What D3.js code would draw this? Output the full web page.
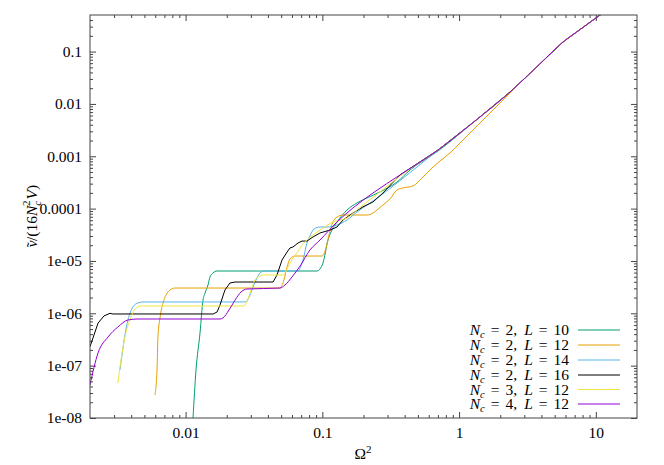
<!DOCTYPE html>
<html><head><meta charset="utf-8">
<script src="https://cdn.jsdelivr.net/npm/d3@7"></script>
<style>
body{margin:0;background:#fff}
svg{display:block}
</style>
</head><body>
<svg id="chart" width="664" height="465"></svg>
<script>
// ---------- data ----------
const xTickValues = [0.01, 0.1, 1, 10];
const xTickLabels = ["0.01", "0.1", "1", "10"];
const yTickValues = [1e-8, 1e-7, 1e-6, 1e-5, 1e-4, 1e-3, 1e-2, 1e-1];
const yTickLabels = ["1e-08", "1e-07", "1e-06", "1e-05", "0.0001", "0.001", "0.01", "0.1"];

const seriesNc = ["2", "2", "2", "2", "3", "4"];
const seriesL  = ["10", "12", "14", "16", "12", "12"];

// N_c = 2, L = 10
const omegaA = [0.0111,0.01133,0.01192,0.01275,0.01341,0.01387,0.01458,0.01509,0.01586,0.01697,0.0914,0.0961,0.1011,0.11,0.1176,0.128,0.1515,0.1792,0.2121,0.2639,0.3514,0.4375,0.7009,1.307,2.357,2.934,3.906,5.754,7.659,10.73,15.02];
const nuA    = [4e-9,1e-8,8.27e-8,4.2e-7,1.79e-6,2.44e-6,3.47e-6,4.94e-6,5.89e-6,6.43e-6,6.43e-6,7.02e-6,9.14e-6,2.51e-5,3.9e-5,5.55e-5,9.4e-5,1.285e-4,1.6e-4,2.08e-4,3.22e-4,5.46e-4,1.26e-3,4.72e-3,0.0169,0.0287,0.0584,0.1524,0.263,0.5,0.885];
// N_c = 2, L = 12
const omegaB = [0.00597,0.00618,0.00628,0.0065,0.00684,0.00719,0.00769,0.00837,0.049,0.0524,0.0552,0.058,0.0631,0.0994,0.1064,0.1119,0.1197,0.128,0.1416,0.2121,0.2346,0.251,0.2776,0.3124,0.3514,0.3889,0.4601,0.5445,0.6334,0.7251,0.8581,1.015,1.264,1.77,2.357,2.934,3.906,5.754,7.659,10.73,15.02];
const nuB    = [2.75e-8,8.27e-8,3.53e-7,8.15e-7,1.576e-6,2.23e-6,2.79e-6,3.04e-6,3.04e-6,4.33e-6,7.66e-6,1.09e-5,1.243e-5,1.243e-5,1.77e-5,3.13e-5,5.55e-5,6.91e-5,7.55e-5,7.55e-5,8.24e-5,9.4e-5,1.174e-4,1.53e-4,2.27e-4,2.48e-4,2.71e-4,4.02e-4,5.97e-4,8.12e-4,1.155e-3,1.79e-3,3.18e-3,7.66e-3,0.01617,0.0287,0.0584,0.1524,0.263,0.5,0.885];
// N_c = 2, L = 14
const omegaC = [0.00331,0.00343,0.0036,0.00379,0.00412,0.00449,0.00488,0.0272,0.02958,0.0311,0.03328,0.035,0.03807,0.0664,0.0687,0.0722,0.0772,0.0812,0.0869,0.0961,0.1081,0.128,0.1515,0.1792,0.2121,0.2639,0.3514,0.7009,1.307,2.357,2.934,3.906,5.754,7.659,10.73,15.02];
const nuC    = [8.27e-8,1.6e-7,3.85e-7,7.46e-7,1.32e-6,1.58e-6,1.647e-6,1.647e-6,2.23e-6,3.18e-6,4.72e-6,5.89e-6,6.43e-6,6.43e-6,7.33e-6,1.04e-5,2.2e-5,3.0e-5,4.08e-5,4.45e-5,4.45e-5,4.86e-5,6.06e-5,8.61e-5,1.174e-4,1.74e-4,3.08e-4,1.317e-3,4.72e-3,0.0169,0.0287,0.0584,0.1524,0.263,0.5,0.885];
// N_c = 2, L = 16
const omegaD = [0.002,0.00229,0.00253,0.0028,0.00294,0.0159,0.017,0.01785,0.0194,0.0211,0.023,0.0436,0.0466,0.0507,0.0552,0.058,0.061,0.0664,0.071,0.0772,0.0854,0.0961,0.1138,0.128,0.1416,0.1675,0.1983,0.2346,0.2776,0.3697,0.7009,1.307,2.357,2.934,3.906,5.754,7.659,10.73,15.02];
const nuD    = [2.3e-7,6.5e-7,8.9e-7,1.0e-6,9.71e-7,9.71e-7,1.06e-6,1.44e-6,2.79e-6,3.79e-6,3.96e-6,3.96e-6,5.4e-6,1.04e-5,1.48e-5,1.77e-5,1.85e-5,2.2e-5,2.4e-5,2.4e-5,2.87e-5,3.42e-5,3.9e-5,4.45e-5,6.06e-5,8.24e-5,1.08e-4,1.34e-4,1.99e-4,4.39e-4,1.317e-3,4.72e-3,0.0169,0.0287,0.0584,0.1524,0.263,0.5,0.885];
// N_c = 3, L = 12
const omegaE = [0.0032,0.00337,0.0036,0.00392,0.00427,0.00472,0.0263,0.0281,0.02958,0.0322,0.035,0.038,0.0516,0.0561,0.061,0.0653,0.071,0.0772,0.0854,0.1011,0.1197,0.1515,0.1792,0.2121,0.2639,0.3697,0.7009,1.307,2.357,2.934,3.906,5.754,7.659,10.73,15.02];
const nuE    = [4.67e-8,1.28e-7,3.53e-7,7.46e-7,1.21e-6,1.38e-6,1.38e-6,1.647e-6,2.44e-6,4.33e-6,5.16e-6,5.4e-6,5.4e-6,7.66e-6,1.14e-5,1.42e-5,2.02e-5,2.51e-5,3.13e-5,4.26e-5,5.55e-5,6.62e-5,9.4e-5,1.343e-4,2.08e-4,4.2e-4,1.317e-3,4.72e-3,0.0169,0.0287,0.0584,0.1524,0.263,0.5,0.885];
// N_c = 4, L = 12
const omegaF = [0.002,0.00229,0.00271,0.0032,0.00379,0.00449,0.01785,0.01877,0.02077,0.023,0.02542,0.0281,0.049,0.0533,0.06,0.0687,0.0812,0.0961,0.128,0.1675,0.2346,0.3697,0.7009,1.307,2.357,2.934,3.906,5.754,7.659,10.73,15.02];
const nuF    = [4.27e-8,1.75e-7,3.53e-7,5.48e-7,7.46e-7,7.79e-7,7.79e-7,8.15e-7,1.156e-6,1.79e-6,2.55e-6,2.91e-6,3.04e-6,3.47e-6,4.94e-6,8.0e-6,1.62e-5,2.51e-5,5.55e-5,1.03e-4,1.99e-4,4.39e-4,1.317e-3,4.72e-3,0.0169,0.0287,0.0584,0.1524,0.263,0.5,0.885];

const seriesOmega = [omegaA, omegaB, omegaC, omegaD, omegaE, omegaF];
const seriesNu    = [nuA, nuB, nuC, nuD, nuE, nuF];

// ---------- styles ----------
const FONT = '"Liberation Serif", "Times New Roman", "DejaVu Serif", serif';
const colors = ["#009e73", "#e69f00", "#56b4e9", "#000000", "#f0e442", "#9400d3"];
const curveTypes = [d3.curveMonotoneX, d3.curveMonotoneX, d3.curveMonotoneX, d3.curveLinear, d3.curveMonotoneX, d3.curveMonotoneX];
const borderColor = "#444";

const L = 90, R = 637, T = 15, B = 418;
const svg = d3.select("#chart");
const x = d3.scaleLog().domain([0.002, 20]).range([L, R]);
const y = d3.scaleLog().domain([1e-8, 0.5]).range([B, T]);

function minorTicks(lo, hi) {
  const out = [];
  for (let e = Math.floor(Math.log10(lo)); e <= Math.ceil(Math.log10(hi)); e++) {
    for (let k = 2; k <= 9; k++) {
      const v = k * Math.pow(10, e);
      if (v > lo * 1.0001 && v < hi * 0.9999) out.push(v);
    }
  }
  return out;
}
const xMinor = minorTicks(0.002, 20);
const yMinor = minorTicks(1e-8, 0.5);

function styleAxis(g) {
  g.attr("font-family", null).attr("font-size", null);
  g.select(".domain").remove();
  g.selectAll(".tick line").attr("stroke", borderColor).attr("stroke-width", 1);
  g.selectAll(".tick text").style("font-family", FONT).style("font-size", "15.5px").attr("fill", "#000");
}

// minor ticks
svg.append("g").attr("transform", `translate(0,${B})`).call(d3.axisBottom(x).tickValues(xMinor).tickSize(-3).tickFormat("")).call(styleAxis);
svg.append("g").attr("transform", `translate(0,${T})`).call(d3.axisTop(x).tickValues(xMinor).tickSize(-3).tickFormat("")).call(styleAxis);
svg.append("g").attr("transform", `translate(${L},0)`).call(d3.axisLeft(y).tickValues(yMinor).tickSize(-3).tickFormat("")).call(styleAxis);
svg.append("g").attr("transform", `translate(${R},0)`).call(d3.axisRight(y).tickValues(yMinor).tickSize(-3).tickFormat("")).call(styleAxis);

// major ticks
svg.append("g").attr("transform", `translate(0,${B})`)
  .call(d3.axisBottom(x).tickValues(xTickValues).tickSize(-6).tickPadding(9).tickFormat((d, i) => xTickLabels[i]))
  .call(styleAxis);
svg.append("g").attr("transform", `translate(0,${T})`).call(d3.axisTop(x).tickValues(xTickValues).tickSize(-6).tickFormat("")).call(styleAxis);
svg.append("g").attr("transform", `translate(${L},0)`)
  .call(d3.axisLeft(y).tickValues(yTickValues).tickSize(-6).tickPadding(8).tickFormat((d, i) => yTickLabels[i]))
  .call(styleAxis);
svg.append("g").attr("transform", `translate(${R},0)`).call(d3.axisRight(y).tickValues(yTickValues).tickSize(-6).tickFormat("")).call(styleAxis);

// clip
svg.append("clipPath").attr("id", "clip").append("rect").attr("x", L).attr("y", T).attr("width", R - L).attr("height", B - T);

// curves
const plot = svg.append("g").attr("clip-path", "url(#clip)");
seriesOmega.forEach((om, i) => {
  const pts = om.map((v, j) => [v, seriesNu[i][j]]);
  const line = d3.line().x(d => x(d[0])).y(d => y(d[1])).curve(curveTypes[i]);
  plot.append("path").datum(pts).attr("d", line)
    .attr("fill", "none").attr("stroke", colors[i]).attr("stroke-width", 1)
    .attr("stroke-linejoin", "round");
});

// border
svg.append("rect").attr("x", L).attr("y", T).attr("width", R - L).attr("height", B - T)
  .attr("fill", "none").attr("stroke", borderColor).attr("stroke-width", 1);

// legend
const legend = svg.append("g");
const rowY = [330, 345, 360, 375, 389.5, 404];
seriesNc.forEach((nc, i) => {
  const t = legend.append("text").attr("x", 569).attr("y", rowY[i] + 5)
    .attr("text-anchor", "end").style("font-family", FONT).style("font-size", "15.5px");
  t.append("tspan").attr("font-style", "italic").text("N");
  t.append("tspan").attr("font-style", "italic").style("font-size", "10.5px").attr("dy", 3).text("c");
  t.append("tspan").attr("dy", -3).attr("dx", 6).text("=");
  t.append("tspan").attr("dx", 6).text(nc + ",");
  t.append("tspan").attr("dx", 7).attr("font-style", "italic").text("L");
  t.append("tspan").attr("dx", 6).text("=");
  t.append("tspan").attr("dx", 6).text(seriesL[i]);
  legend.append("line").attr("x1", 578).attr("x2", 620).attr("y1", rowY[i]).attr("y2", rowY[i])
    .attr("stroke", colors[i]).attr("stroke-width", 1);
});

// axis titles
const xt = svg.append("text").attr("x", 363).attr("y", 459).attr("text-anchor", "middle")
  .style("font-family", FONT).style("font-size", "15.5px");
xt.append("tspan").text("Ω");
xt.append("tspan").style("font-size", "11px").attr("dy", -6).text("2");

const yt = svg.append("text").attr("transform", "translate(37,216) rotate(-90)").attr("text-anchor", "middle")
  .style("font-family", FONT).style("font-size", "15.5px");
yt.append("tspan").attr("font-style", "italic").text("ν");
yt.append("tspan").attr("dx", -7).attr("dy", 0).text("\u02DC");
yt.append("tspan").attr("dx", 1).text("/(16");
yt.append("tspan").attr("font-style", "italic").text("N");
yt.append("tspan").attr("font-style", "italic").style("font-size", "11px").attr("dy", 4).text("c");
yt.append("tspan").style("font-size", "11px").attr("dx", -5).attr("dy", -11).text("2");
yt.append("tspan").attr("font-style", "italic").attr("dy", 7).attr("dx", 1).text("V");
yt.append("tspan").text(")");
</script>
</body></html>
